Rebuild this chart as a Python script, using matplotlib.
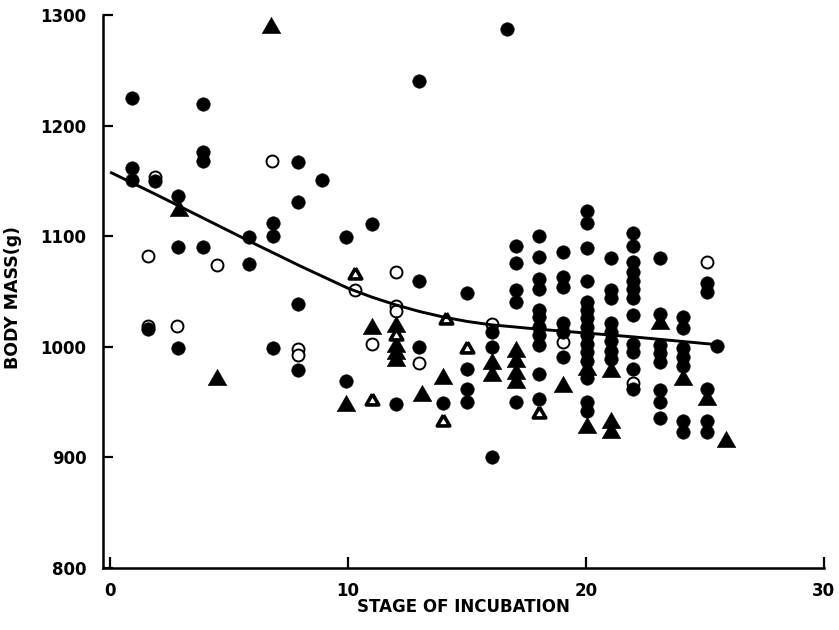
import matplotlib
matplotlib.use("Agg")
import matplotlib.pyplot as plt
from matplotlib.markers import MarkerStyle
import numpy as np

# ---- data ----
fc_x = [0.9, 0.9, 0.9, 1.6, 1.9, 2.85, 2.85, 2.85, 3.9, 3.9, 3.9, 3.9,
        5.85, 5.85, 6.85, 6.85, 6.85, 7.9, 7.9, 7.9, 7.9, 8.9, 9.9, 9.9, 11.0, 12.0,
        13.0, 13.0, 13.0, 14.0, 15.0, 15.0, 15.0, 15.0, 16.05, 16.05, 16.05, 16.7,
        17.05, 17.05, 17.05, 17.05, 17.05,
        18.05, 18.05, 18.05, 18.05, 18.05, 18.05, 18.05, 18.05, 18.05, 18.05, 18.05,
        19.05, 19.05, 19.05, 19.05, 19.05, 19.05,
        20.05, 20.05, 20.05, 20.05, 20.05, 20.05, 20.05, 20.05, 20.05, 20.05, 20.05, 20.05, 20.05, 20.05, 20.05,
        21.05, 21.05, 21.05, 21.05, 21.05, 21.05, 21.05, 21.05,
        22.0, 22.0, 22.0, 22.0, 22.0, 22.0, 22.0, 22.0, 22.0, 22.0, 22.0, 22.0,
        23.1, 23.1, 23.1, 23.1, 23.1, 23.1, 23.1, 23.1,
        24.1, 24.1, 24.1, 24.1, 24.1, 24.1, 24.1,
        25.1, 25.1, 25.1, 25.1, 25.1, 25.5]
fc_y = [1225, 1162, 1151, 1016, 1150, 1136, 1090, 999, 1220, 1176, 1168, 1090,
        1099, 1075, 1112, 1100, 999, 1167, 1131, 1039, 979, 1151, 1099, 969, 1111, 948,
        1240, 1060, 1000, 949, 1049, 980, 962, 950, 1013, 1000, 900, 1287,
        1091, 1076, 1051, 1041, 950,
        1100, 1081, 1061, 1052, 1033, 1027, 1018, 1011, 1002, 975, 953,
        1086, 1063, 1054, 1022, 1013, 991,
        1123, 1112, 1089, 1060, 1041, 1033, 1026, 1018, 1011, 1003, 995, 987, 972, 950, 942,
        1080, 1051, 1044, 1022, 1013, 1005, 996, 989,
        1103, 1091, 1077, 1068, 1060, 1052, 1044, 1029, 1003, 995, 980, 962,
        1080, 1030, 1002, 994, 986, 961, 950, 936,
        1027, 1017, 999, 991, 983, 933, 923,
        1058, 1050, 962, 933, 923, 1001]

oc_x = [1.6, 1.6, 1.9, 2.8, 4.5, 6.8, 7.9, 7.9, 10.3, 11.0, 12.0, 12.0, 12.0, 13.0,
        16.05, 19.05, 22.0, 25.1]
oc_y = [1082, 1019, 1154, 1019, 1074, 1168, 998, 993, 1051, 1003, 1068, 1037, 1032, 985,
        1021, 1004, 967, 1077]

ft_x = [2.9, 4.5, 6.75, 9.9, 11.0, 12.0, 12.0, 12.0, 12.0, 13.1, 14.0,
        16.05, 16.05, 17.05, 17.05, 17.05, 17.05, 19.05, 20.05, 20.05,
        21.05, 21.05, 21.05, 23.1, 24.1, 25.1, 25.9]
ft_y = [1126, 973, 1291, 949, 1019, 1021, 1003, 996, 990, 958, 974,
        987, 976, 998, 989, 978, 970, 966, 982, 929,
        980, 934, 925, 1023, 973, 955, 917]

ot_x = [10.3, 11.0, 12.0, 14.1, 14.0, 15.0, 18.05]
ot_y = [1067, 953, 1012, 1026, 934, 1000, 941]

curve_x = [0.0, 2.0, 4.0, 6.0, 8.0, 10.0, 11.0, 12.0, 13.0, 14.0, 15.0, 16.0,
           18.0, 20.0, 22.0, 24.0, 25.5]
curve_y = [1158, 1137, 1115.5, 1094, 1073, 1053, 1045, 1038, 1032, 1027, 1023, 1020,
           1016, 1012.5, 1009, 1005, 1002]

x_ticks = [0, 10, 20, 30]
y_ticks = [800, 900, 1000, 1100, 1200, 1300]

# ---- figure ----
fig = plt.figure(figsize=(8.39, 6.30), dpi=100)
ax = fig.add_axes([0.1228, 0.0984, 0.859, 0.8776])

tri = MarkerStyle([(0, 1.0), (-1.15, -1.0), (1.15, -1.0), (0, 1.0)], joinstyle='miter')

ax.plot(oc_x, oc_y, linestyle='none', marker='o', ms=8.6, mfc='white', mec='black',
        mew=1.4, zorder=2)
ax.plot(fc_x, fc_y, linestyle='none', marker='o', ms=9.8, mfc='black', mec='black',
        mew=0.3, zorder=3)
ax.plot(ft_x, ft_y, linestyle='none', marker=tri, ms=13.4, mfc='black', mec='black',
        mew=0.4, zorder=4)
ax.plot(ot_x, ot_y, linestyle='none', marker=tri, ms=9.0, mfc='white', mec='black',
        mew=2.6, zorder=5)
ax.plot(curve_x, curve_y, color='black', lw=2.1, zorder=6, solid_capstyle='butt',
        solid_joinstyle='round')

ax.set_xlim(-0.3, 30)
ax.set_ylim(800, 1300)
ax.set_xticks(x_ticks)
ax.set_yticks(y_ticks)

for s in ['top', 'right']:
    ax.spines[s].set_visible(False)
for s in ['left', 'bottom']:
    ax.spines[s].set_linewidth(1.8)

ax.tick_params(axis='both', direction='in', width=1.6, labelsize=12)
ax.tick_params(axis='x', length=8, pad=10)
ax.tick_params(axis='y', length=7, pad=12)
for lab in ax.get_xticklabels() + ax.get_yticklabels():
    lab.set_fontweight('bold')
    lab.set_family('DejaVu Sans')

ax.set_xlabel('STAGE OF INCUBATION', fontsize=12, fontweight='bold',
              family='DejaVu Sans')
ax.set_ylabel('BODY MASS(g)', fontsize=12.5, fontweight='bold',
              family='DejaVu Sans')
ax.xaxis.set_label_coords(0.5, -0.055)
ax.yaxis.set_label_coords(-0.112, 0.49)

fig.savefig('out.png', dpi=100)
